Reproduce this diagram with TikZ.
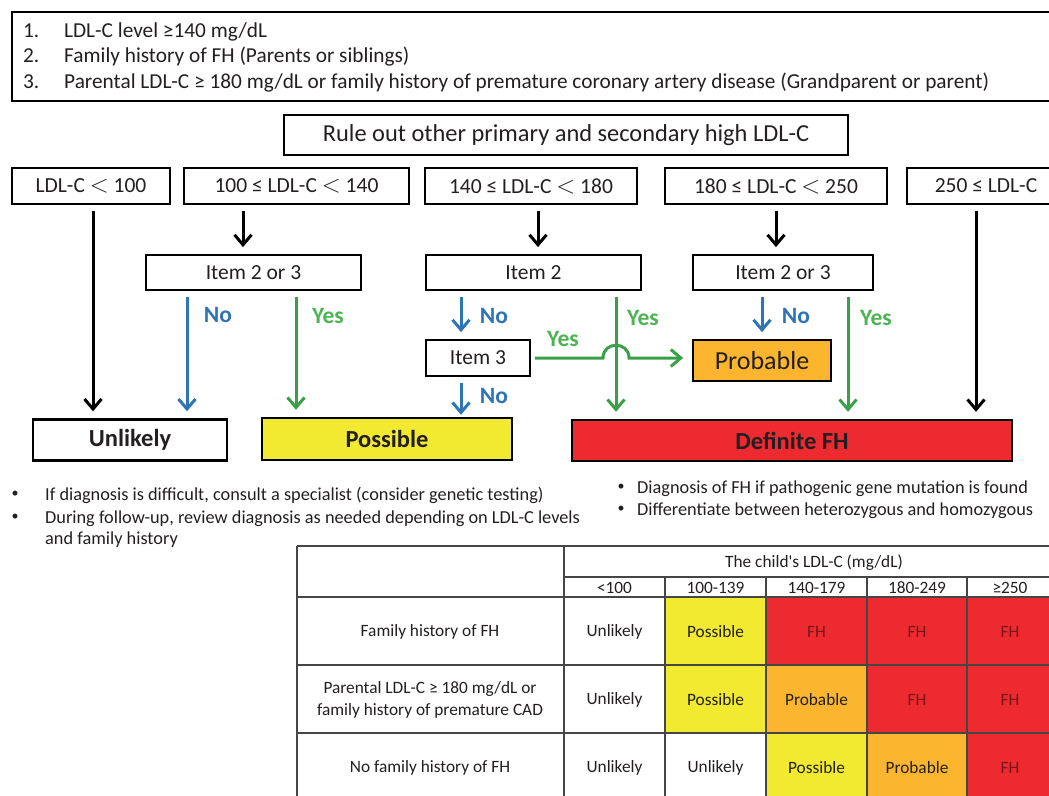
\documentclass[tikz,border=0pt]{standalone}
\usepackage{fontspec}
\setmainfont{Carlito}
\usetikzlibrary{arrows.meta}

\definecolor{nogo}{RGB}{46,117,182}
\definecolor{gogreen}{RGB}{58,160,72}
\definecolor{yestext}{RGB}{76,180,82}
\definecolor{possfill}{RGB}{242,234,49}
\definecolor{probfill}{RGB}{251,181,46}
\definecolor{fhfill}{RGB}{236,42,47}
\definecolor{ink}{RGB}{35,31,32}
\definecolor{fhink}{RGB}{120,22,24}
\definecolor{gridgray}{RGB}{70,70,70}

\newcommand{\lessthan}{{\fontsize{25}{25}\selectfont$<$}}

\tikzset{
	box/.style = {draw, line width=1.8pt, inner sep=0pt, text=ink, font=\fontsize{21.5}{25}\selectfont},
	outcome/.style = {box, line width=2.4pt, font=\bfseries\fontsize{24.5}{28}\selectfont},
	down/.style = {->, line width=3pt, shorten <=6pt, shorten >=7pt},
	nolbl/.style = {text=nogo, font=\bfseries\fontsize{23.5}{27}\selectfont},
	yeslbl/.style = {text=yestext, font=\bfseries\fontsize{23.5}{27}\selectfont},
	crit/.style = {text=ink, inner sep=0pt, font=\fontsize{21.3}{24}\selectfont},
	note/.style = {text=ink, inner sep=0pt, font=\fontsize{18.3}{21}\selectfont},
	dot/.style = {text=ink, inner sep=0pt, font=\fontsize{14}{16}\selectfont},
	cell/.style = {text=ink, align=center, inner sep=0pt, font=\fontsize{17.3}{21.5}\selectfont},
	grid/.style = {gridgray, line width=1.1pt}
}

\begin{document}
\begin{tikzpicture}[x = 1pt, y = -1pt, > = {Straight Barb[length=10pt, width=17pt]}]

	\useasboundingbox (0, 0) rectangle (1049, 795);
	\clip (0, 0) rectangle (1049, 795);

	% criteria list
	\draw [line width=1.8pt] (12, 12) rectangle (1070, 101);
	\node [crit, anchor=base west] (num1) at (23, 37) {1.};
	\node [crit, anchor=base west] (num2) at (23, 62) {2.};
	\node [crit, anchor=base west] (num3) at (23, 88) {3.};
	\node [crit, anchor=base west] (crit1) at (64, 37) {LDL-C level ≥140 mg/dL};
	\node [crit, anchor=base west] (crit2) at (64, 62) {Family history of FH (Parents or siblings)};
	\node [crit, anchor=base west] (crit3) at (64, 88) {Parental LDL-C ≥ 180 mg/dL or family history of premature coronary artery disease (Grandparent or parent)};

	% flow chart
	\node [box, minimum width=564, minimum height=40, font=\fontsize{24.4}{28}\selectfont] (rule) at (566, 135) {Rule out other primary and secondary high LDL-C};

	\node [box, minimum width=158, minimum height=36] (rA) at (91, 186) {LDL-C \lessthan{} 100};
	\node [box, minimum width=225, minimum height=36] (rB) at (296.5, 186) {100 ≤ LDL-C \lessthan{} 140};
	\node [box, minimum width=212, minimum height=36] (rC) at (531, 186) {140 ≤ LDL-C \lessthan{} 180};
	\node [box, minimum width=222, minimum height=36] (rD) at (776, 186) {180 ≤ LDL-C \lessthan{} 250};
	\node [box, minimum width=158, minimum height=36] (rE) at (986, 186) {250 ≤ LDL-C};

	\node [box, minimum width=215, minimum height=35] (itB) at (253.5, 272.5) {Item 2 or 3};
	\node [box, minimum width=215, minimum height=35] (itC) at (533.5, 272.5) {Item 2};
	\node [box, minimum width=180, minimum height=35] (itD) at (783, 272.5) {Item 2 or 3};
	\node [box, minimum width=104, minimum height=36] (it3) at (478, 358) {Item 3};

	\node [box, fill=probfill, minimum width=138, minimum height=41, font=\fontsize{26}{30}\selectfont] (prob) at (762, 360.5) {Probable};

	\node [outcome, minimum width=194, minimum height=41] (unl) at (130, 440) {Unlikely};
	\node [outcome, fill=possfill, minimum width=250, minimum height=42] (poss) at (387, 439) {Possible};
	\node [outcome, fill=fhfill, minimum width=440, minimum height=41] (def) at (792, 440.5) {Definite FH};

	\begin{scope}[down]
		\draw (93, 0 |- rA.south) -- (93, 0 |- unl.north);
		\draw (243, 0 |- rB.south) -- (243, 0 |- itB.north);
		\draw (538, 0 |- rC.south) -- (538, 0 |- itC.north);
		\draw (776, 0 |- rD.south) -- (776, 0 |- itD.north);
		\draw (976, 0 |- rE.south) -- (976, 0 |- def.north);
	\end{scope}

	\begin{scope}[down, nogo]
		\draw (187, 0 |- itB.south) -- (187, 0 |- unl.north);
		\draw (461, 0 |- itC.south) -- (461, 0 |- it3.north);
		\draw [shorten >=2pt] (461, 0 |- it3.south) -- (461, 0 |- poss.north);
		\draw (762, 0 |- itD.south) -- (762, 0 |- prob.north);
	\end{scope}

	\begin{scope}[down, gogreen]
		\draw (296, 0 |- itB.south) -- (296, 0 |- poss.north);
		\draw (616, 0 |- itC.south) -- (616, 0 |- def.north);
		\draw (848, 0 |- itD.south) -- (848, 0 |- def.north);
		\draw [shorten <=4pt, shorten >=9pt] (it3.east) -- (603, 0 |- it3.east)
			.. controls (603, 341) and (629, 341) .. (629, 0 |- it3.east) -- (prob.west |- it3.east);
	\end{scope}

	\node [nolbl] (noB) at (218, 315) {No};
	\node [yeslbl] (yesB) at (328, 316) {Yes};
	\node [nolbl] (noC) at (494, 316) {No};
	\node [yeslbl] (yesC) at (643, 318) {Yes};
	\node [yeslbl] (yes3) at (563, 339) {Yes};
	\node [nolbl] (no3) at (494, 396) {No};
	\node [nolbl] (noD) at (796, 316) {No};
	\node [yeslbl] (yesD) at (876, 318) {Yes};

	% notes
	\node [dot] (bulA1) at (15, 494) {•};
	\node [dot] (bulA2) at (15, 517) {•};
	\node [note, anchor=base west] (noteA1) at (45, 500) {If diagnosis is difficult, consult a specialist (consider genetic testing)};
	\node [note, anchor=base west] (noteA2) at (45, 523) {During follow-up, review diagnosis as needed depending on LDL-C levels};
	\node [note, anchor=base west] (noteA3) at (45, 544) {and family history};
	\node [dot] (bulB1) at (621, 487) {•};
	\node [dot] (bulB2) at (621, 509) {•};
	\node [note, anchor=base west] (noteB1) at (637, 493) {Diagnosis of FH if pathogenic gene mutation is found};
	\node [note, anchor=base west] (noteB2) at (637, 515) {Differentiate between heterozygous and homozygous};

	% table
	\fill [possfill] (665, 597) rectangle (766, 733);
	\fill [fhfill] (766, 597) rectangle (1060, 665);
	\fill [probfill] (766, 665) rectangle (867, 733);
	\fill [fhfill] (867, 665) rectangle (1060, 733);
	\fill [possfill] (766, 733) rectangle (867, 810);
	\fill [probfill] (867, 733) rectangle (967, 810);
	\fill [fhfill] (967, 733) rectangle (1060, 810);

	\draw [grid] (297, 546) -- (1060, 546) (564, 577) -- (1060, 577)
		(297, 597) -- (1060, 597) (297, 665) -- (1060, 665) (297, 733) -- (1060, 733);
	\draw [grid] (297, 546) -- (297, 810) (564, 546) -- (564, 810);
	\foreach \x in {665, 766, 867, 967}
		\draw [grid] (\x, 577) -- (\x, 810);

	\node [cell] (head) at (814, 563) {The child\textquotesingle s LDL-C (mg/dL)};
	\foreach \x/\t [count=\i] in {614.5/<100, 715.5/100-139, 816.5/140-179, 917/180-249, 1010/≥250}
		\node [cell] (col\i) at (\x, 588) {\t};

	\node [cell] (row1) at (430, 632) {Family history of FH};
	\node [cell] (row2) at (430, 700) {Parental LDL-C ≥ 180 mg/dL or\\family history of premature CAD};
	\node [cell] (row3) at (430, 768) {No family history of FH};

	\foreach \x/\t/\c [count=\i] in {614.5/Unlikely/ink, 715.5/Possible/ink, 816.5/FH/fhink, 917/FH/fhink, 1010/FH/fhink}
		\node [cell, text=\c] (a\i) at (\x, 632) {\t};
	\foreach \x/\t/\c [count=\i] in {614.5/Unlikely/ink, 715.5/Possible/ink, 816.5/Probable/ink, 917/FH/fhink, 1010/FH/fhink}
		\node [cell, text=\c] (b\i) at (\x, 700) {\t};
	\foreach \x/\t/\c [count=\i] in {614.5/Unlikely/ink, 715.5/Unlikely/ink, 816.5/Possible/ink, 917/Probable/ink, 1010/FH/fhink}
		\node [cell, text=\c] (c\i) at (\x, 768) {\t};

\end{tikzpicture}
\end{document}
